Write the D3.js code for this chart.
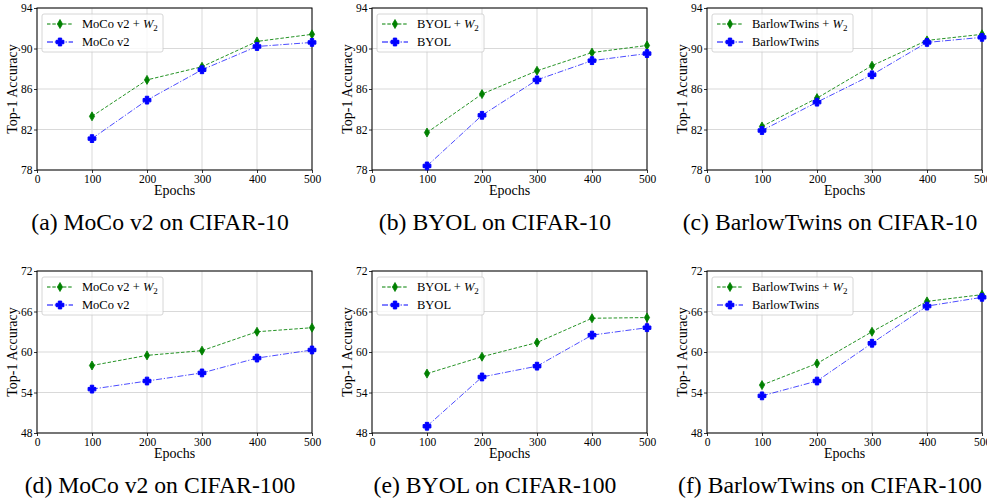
<!DOCTYPE html>
<html>
<head>
<meta charset="utf-8">
<script src="https://cdn.jsdelivr.net/npm/d3@7"></script>
<style>
  body { margin: 0; background: #fff; }
  text { font-family: "Liberation Serif", "DejaVu Serif", serif; }
</style>
</head>
<body>
<script>
const epochs = [100, 200, 300, 400, 500];
const xTicks = [0, 100, 200, 300, 400, 500];
const yTicks10 = [78, 82, 86, 90, 94];
const yTicks100 = [48, 54, 60, 66, 72];

const mocoC10W = [83.3, 86.9, 88.2, 90.7, 91.4];
const mocoC10 = [81.1, 84.9, 87.9, 90.2, 90.6];
const byolC10W = [81.7, 85.5, 87.8, 89.6, 90.3];
const byolC10 = [78.4, 83.4, 86.9, 88.8, 89.5];
const barlowC10W = [82.3, 85.1, 88.3, 90.8, 91.4];
const barlowC10 = [81.9, 84.7, 87.4, 90.6, 91.1];

const mocoC100W = [58.0, 59.5, 60.2, 63.0, 63.6];
const mocoC100 = [54.5, 55.7, 56.9, 59.1, 60.3];
const byolC100W = [56.8, 59.3, 61.4, 65.0, 65.1];
const byolC100 = [49.0, 56.3, 57.9, 62.5, 63.6];
const barlowC100W = [55.1, 58.3, 63.0, 67.5, 68.5];
const barlowC100 = [53.5, 55.7, 61.3, 66.8, 68.1];

const methods = ["MoCo v2", "BYOL", "BarlowTwins"];
const captions = [
  "(a) MoCo v2 on CIFAR-10", "(b) BYOL on CIFAR-10", "(c) BarlowTwins on CIFAR-10",
  "(d) MoCo v2 on CIFAR-100", "(e) BYOL on CIFAR-100", "(f) BarlowTwins on CIFAR-100"
];

const panels = [
  {w: mocoC10W, b: mocoC10, ticks: yTicks10},
  {w: byolC10W, b: byolC10, ticks: yTicks10},
  {w: barlowC10W, b: barlowC10, ticks: yTicks10},
  {w: mocoC100W, b: mocoC100, ticks: yTicks100},
  {w: byolC100W, b: byolC100, ticks: yTicks100},
  {w: barlowC100W, b: barlowC100, ticks: yTicks100}
];

const W = 987, H = 500;
const lefts = [37, 372, 707];
const tops = [8, 271];
const pw = 275, ph = 162;
const green = "#008000", blue = "#0000ff";

const svg = d3.select("body").append("svg").attr("width", W).attr("height", H);

function diamond(g, x, y) {
  g.append("path")
    .attr("d", `M${x},${y - 4.5}L${x + 2.6},${y}L${x},${y + 4.5}L${x - 2.6},${y}Z`)
    .attr("fill", green).attr("stroke", green).attr("stroke-width", 0.8);
}
function plusMarker(g, x, y) {
  const a = 1.7, b = 3.9;
  g.append("path")
    .attr("d", `M${x - a},${y - b}H${x + a}V${y - a}H${x + b}V${y + a}H${x + a}V${y + b}H${x - a}V${y + a}H${x - b}V${y - a}H${x - a}Z`)
    .attr("fill", blue).attr("stroke", blue).attr("stroke-width", 1).attr("stroke-linejoin", "round");
}

panels.forEach((p, i) => {
  const col = i % 3, row = Math.floor(i / 3);
  const x0 = lefts[col], y0 = tops[row];
  const g = svg.append("g").attr("transform", `translate(${x0},${y0})`);
  const x = d3.scaleLinear().domain([0, 500]).range([0, pw]);
  const y = d3.scaleLinear().domain([p.ticks[0], p.ticks[p.ticks.length - 1]]).range([ph, 0]);

  // grid
  g.append("g").selectAll("line").data(xTicks).enter().append("line")
    .attr("x1", d => x(d)).attr("x2", d => x(d)).attr("y1", 0).attr("y2", ph)
    .attr("stroke", "#d9d9d9").attr("stroke-width", 1);
  g.append("g").selectAll("line").data(p.ticks).enter().append("line")
    .attr("x1", 0).attr("x2", pw).attr("y1", d => y(d)).attr("y2", d => y(d))
    .attr("stroke", "#d9d9d9").attr("stroke-width", 1);

  // axes
  const xa = g.append("g").attr("transform", `translate(0,${ph})`)
    .call(d3.axisBottom(x).tickValues(xTicks).tickSize(3).tickPadding(1.5));
  const ya = g.append("g")
    .call(d3.axisLeft(y).tickValues(p.ticks).tickSize(3).tickPadding(1.5));
  [xa, ya].forEach(a => {
    a.select(".domain").remove();
    a.selectAll("text").attr("font-family", "Liberation Serif").attr("font-size", 11.5).attr("fill", "#000");
    a.selectAll("line").attr("stroke", "#000").attr("stroke-width", 0.8);
  });
  g.append("rect").attr("width", pw).attr("height", ph)
    .attr("fill", "none").attr("stroke", "#000").attr("stroke-width", 1);

  // lines
  const line = d3.line().x((d, k) => x(epochs[k])).y(d => y(d));
  g.append("path").datum(p.w).attr("d", line).attr("fill", "none")
    .attr("stroke", green).attr("stroke-opacity", 0.85).attr("stroke-width", 1)
    .attr("stroke-dasharray", "3.5,1.8");
  g.append("path").datum(p.b).attr("d", line).attr("fill", "none")
    .attr("stroke", blue).attr("stroke-opacity", 0.7).attr("stroke-width", 1)
    .attr("stroke-dasharray", "6,1.8,1.2,1.8");
  p.w.forEach((v, k) => diamond(g, x(epochs[k]), y(v)));
  p.b.forEach((v, k) => plusMarker(g, x(epochs[k]), y(v)));

  // legend
  const lg = g.append("g").attr("transform", "translate(5,6)");
  const lw = col === 2 ? 141 : (col === 1 ? 107 : 121);
  lg.append("rect").attr("width", lw).attr("height", 38).attr("rx", 2)
    .attr("fill", "#fff").attr("fill-opacity", 0.8).attr("stroke", "#cccccc").attr("stroke-width", 0.8);
  [0, 1].forEach(r => {
    const ly = 10 + r * 18;
    lg.append("line").attr("x1", 5).attr("x2", 31).attr("y1", ly).attr("y2", ly)
      .attr("stroke", r === 0 ? green : blue).attr("stroke-width", 1)
      .attr("stroke-dasharray", r === 0 ? "3.5,1.8" : "6,1.8,1.2,1.8");
    if (r === 0) diamond(lg, 18, ly); else plusMarker(lg, 18, ly);
    const t = lg.append("text").attr("x", 40).attr("y", ly + 4.2).attr("font-size", 12.5).attr("fill", "#000");
    t.append("tspan").text(methods[col] + (r === 0 ? " + " : ""));
    if (r === 0) {
      t.append("tspan").attr("font-style", "italic").text("W");
      t.append("tspan").attr("font-size", 9).attr("dy", 2.5).text("2");
    }
  });

  // axis labels
  g.append("text").attr("x", pw / 2).attr("y", ph + 25).attr("text-anchor", "middle")
    .attr("font-size", 14).text("Epochs");
  g.append("text").attr("transform", `translate(-20,${ph / 2}) rotate(-90)`)
    .attr("text-anchor", "middle").attr("font-size", 14).text("Top-1 Accuracy");

  // caption
  svg.append("text").attr("x", x0 + 123).attr("y", y0 + ph + 60)
    .attr("text-anchor", "middle").attr("font-size", 23.7).text(captions[i]);
});
</script>
</body>
</html>
